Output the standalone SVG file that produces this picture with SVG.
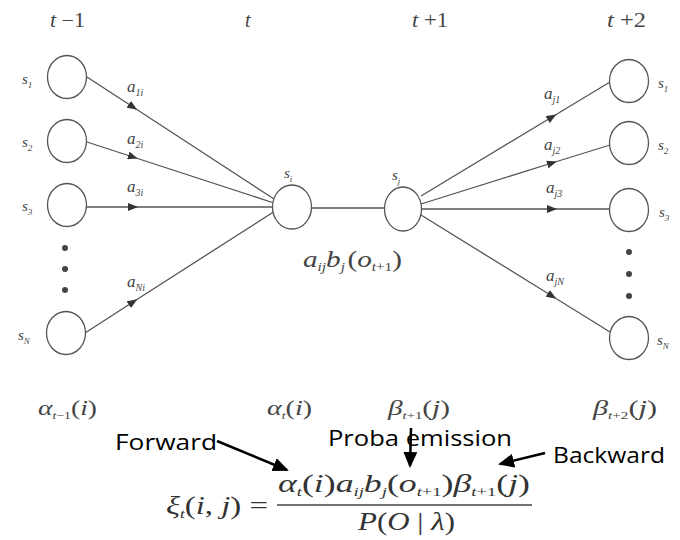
<svg xmlns="http://www.w3.org/2000/svg" width="680" height="540" viewBox="0 0 680 540">
<defs>
<style>
.node{fill:#fff;stroke:#555;stroke-width:1.3}
.edge{fill:none;stroke:#555;stroke-width:1.3}
.m{font-family:'Liberation Serif','DejaVu Serif',serif;fill:#444}
.i{font-style:italic}
.lbl{font-size:15px}
.ann{font-family:'Open Sans','Liberation Sans',sans-serif;font-size:21px;fill:#000}
.big{stroke:#000;stroke-width:2.5;fill:none}
</style>
<marker id="mid" viewBox="0 0 10 8" refX="5" refY="4" markerWidth="10" markerHeight="8" markerUnits="userSpaceOnUse" orient="auto">
<path d="M0,0 L10,4 L0,8 Z" fill="#333"/>
</marker>
<marker id="bigh" viewBox="0 0 16 14" refX="14" refY="7" markerWidth="16" markerHeight="14" markerUnits="userSpaceOnUse" orient="auto">
<path d="M0,0 L16,7 L0,14 Z" fill="#000"/>
</marker>
</defs>
<rect width="680" height="540" fill="#fff"/>

<g id="time-labels" class="m" font-family="Liberation Serif, serif" font-size="20">
<text x="50" y="27" textLength="35" lengthAdjust="spacingAndGlyphs"><tspan class="i">t</tspan> −1</text>
<text x="245" y="27" class="i">t</text>
<text x="412" y="27" textLength="36" lengthAdjust="spacingAndGlyphs"><tspan class="i">t</tspan> +1</text>
<text x="607" y="27" textLength="39" lengthAdjust="spacingAndGlyphs"><tspan class="i">t</tspan> +2</text>
</g>

<g id="connectors">
<path class="edge" d="M87,77 L133,107 L274,199" marker-mid="url(#mid)"/>
<path class="edge" d="M87,142 L133,157 L274,203" marker-mid="url(#mid)"/>
<path class="edge" d="M86,207 L133,207 L273,207" marker-mid="url(#mid)"/>
<path class="edge" d="M85,333 L133,302 L275,211" marker-mid="url(#mid)"/>
<path class="edge" d="M312,208 L384,208"/>
<path class="edge" d="M421,196 L552,117 L610,82" marker-mid="url(#mid)"/>
<path class="edge" d="M421,204 L552,163 L610,145" marker-mid="url(#mid)"/>
<path class="edge" d="M422,209 L552,209 L610,209" marker-mid="url(#mid)"/>
<path class="edge" d="M421,215 L552,296 L610,332" marker-mid="url(#mid)"/>
</g>

<g id="edge-labels" class="m i" font-family="Liberation Serif, serif">
<text x="127" y="92" font-size="17">a<tspan font-size="10" dy="4">1i</tspan></text>
<text x="127" y="144" font-size="17">a<tspan font-size="10" dy="4">2i</tspan></text>
<text x="127" y="192" font-size="17">a<tspan font-size="10" dy="4">3i</tspan></text>
<text x="127" y="287" font-size="17">a<tspan font-size="10" dy="4">Ni</tspan></text>
<text x="544" y="99" font-size="17">a<tspan font-size="10" dy="4">j1</tspan></text>
<text x="544" y="150" font-size="17">a<tspan font-size="10" dy="4">j2</tspan></text>
<text x="546" y="193" font-size="17">a<tspan font-size="10" dy="4">j3</tspan></text>
<text x="546" y="281" font-size="17">a<tspan font-size="10" dy="4">jN</tspan></text>
</g>

<g font-family="Liberation Serif, serif">
<g id="left-s1"><ellipse class="node" cx="67" cy="77" rx="19.5" ry="21.5"/><text class="m i lbl" x="22" y="84">s<tspan font-size="9" dy="4">1</tspan></text></g>
<g id="left-s2"><ellipse class="node" cx="67" cy="141" rx="19.5" ry="21.5"/><text class="m i lbl" x="22" y="147">s<tspan font-size="9" dy="4">2</tspan></text></g>
<g id="left-s3"><ellipse class="node" cx="67" cy="205" rx="19.5" ry="21.5"/><text class="m i lbl" x="22" y="211">s<tspan font-size="9" dy="4">3</tspan></text></g>
<g id="left-dots" fill="#444"><circle cx="65" cy="248" r="3"/><circle cx="65" cy="269" r="3"/><circle cx="65" cy="290" r="3"/></g>
<g id="left-sN"><ellipse class="node" cx="66" cy="333" rx="19.5" ry="21.5"/><text class="m i lbl" x="18" y="340">s<tspan font-size="9" dy="4">N</tspan></text></g>

<g id="node-si"><ellipse class="node" cx="292" cy="207" rx="19.5" ry="22"/><text class="m i lbl" x="284" y="178">s<tspan font-size="9" dy="4">i</tspan></text></g>
<g id="node-sj"><ellipse class="node" cx="403" cy="209" rx="18.5" ry="22"/><text class="m i lbl" x="392" y="180">s<tspan font-size="9" dy="4">j</tspan></text></g>

<g id="right-s1"><ellipse class="node" cx="629" cy="81" rx="19.5" ry="21.5"/><text class="m i lbl" x="658" y="88">s<tspan font-size="9" dy="4">1</tspan></text></g>
<g id="right-s2"><ellipse class="node" cx="629" cy="143" rx="19.5" ry="21.5"/><text class="m i lbl" x="658" y="150">s<tspan font-size="9" dy="4">2</tspan></text></g>
<g id="right-s3"><ellipse class="node" cx="629" cy="210" rx="19.5" ry="21.5"/><text class="m i lbl" x="659" y="217">s<tspan font-size="9" dy="4">3</tspan></text></g>
<g id="right-dots" fill="#444"><circle cx="629" cy="252" r="3"/><circle cx="629" cy="274" r="3"/><circle cx="629" cy="296" r="3"/></g>
<g id="right-sN"><ellipse class="node" cx="629" cy="338" rx="19.5" ry="21.5"/><text class="m i lbl" x="657" y="345">s<tspan font-size="9" dy="4">N</tspan></text></g>
</g>

<g id="transition-label" class="m" font-family="Liberation Serif, serif" font-size="23">
<text x="303" y="267" textLength="99" lengthAdjust="spacingAndGlyphs"><tspan class="i">a</tspan><tspan class="i" font-size="12" dy="4">ij</tspan><tspan class="i" dy="-4">b</tspan><tspan class="i" font-size="12" dy="4">j</tspan><tspan dy="-4" dx="2">(</tspan><tspan class="i">o</tspan><tspan class="i" font-size="12" dy="4">t</tspan><tspan font-size="12">+1</tspan><tspan dy="-4">)</tspan></text>
</g>

<g id="bottom-labels" class="m" font-family="Liberation Serif, serif" font-size="22">
<text x="38" y="415" textLength="59" lengthAdjust="spacingAndGlyphs"><tspan class="i">α</tspan><tspan font-size="11" dy="4"><tspan class="i">t</tspan>−1</tspan><tspan dy="-4">(</tspan><tspan class="i">i</tspan>)</text>
<text x="267" y="415" textLength="45" lengthAdjust="spacingAndGlyphs"><tspan class="i">α</tspan><tspan class="i" font-size="11" dy="4">t</tspan><tspan dy="-4">(</tspan><tspan class="i">i</tspan>)</text>
<text x="388" y="415" textLength="62" lengthAdjust="spacingAndGlyphs"><tspan class="i">β</tspan><tspan font-size="11" dy="4"><tspan class="i">t</tspan>+1</tspan><tspan dy="-4">(</tspan><tspan class="i">j</tspan>)</text>
<text x="593" y="415" textLength="64" lengthAdjust="spacingAndGlyphs"><tspan class="i">β</tspan><tspan font-size="11" dy="4"><tspan class="i">t</tspan>+2</tspan><tspan dy="-4">(</tspan><tspan class="i">j</tspan>)</text>
</g>

<g id="formula" class="m" font-family="Liberation Serif, serif" font-size="25" style="fill:#333">
<text x="166" y="514" textLength="102" lengthAdjust="spacingAndGlyphs"><tspan class="i">ξ</tspan><tspan class="i" font-size="13" dy="4">t</tspan><tspan dy="-4">(</tspan><tspan class="i">i</tspan>, <tspan class="i">j</tspan>) =</text>
<line x1="277" y1="505" x2="532" y2="505" stroke="#444" stroke-width="1.4"/>
<text x="278" y="492" textLength="252" lengthAdjust="spacingAndGlyphs"><tspan class="i">α</tspan><tspan class="i" font-size="13" dy="4">t</tspan><tspan dy="-4">(</tspan><tspan class="i">i</tspan>)<tspan class="i">a</tspan><tspan class="i" font-size="13" dy="4">ij</tspan><tspan class="i" dy="-4">b</tspan><tspan class="i" font-size="13" dy="4">j</tspan><tspan dy="-4">(</tspan><tspan class="i">o</tspan><tspan font-size="13" dy="4"><tspan class="i">t</tspan>+1</tspan><tspan dy="-4">)</tspan><tspan class="i">β</tspan><tspan font-size="13" dy="4"><tspan class="i">t</tspan>+1</tspan><tspan dy="-4">(</tspan><tspan class="i">j</tspan>)</text>
<text x="358" y="530" textLength="97" lengthAdjust="spacingAndGlyphs"><tspan class="i">P</tspan>(<tspan class="i">O</tspan> | <tspan class="i">λ</tspan>)</text>
</g>

<g id="annotations">
<text class="ann" x="115" y="450" textLength="102" lengthAdjust="spacingAndGlyphs">Forward</text>
<text class="ann" x="328" y="446" textLength="184" lengthAdjust="spacingAndGlyphs">Proba emission</text>
<text class="ann" x="553" y="463" textLength="112" lengthAdjust="spacingAndGlyphs">Backward</text>
<line class="big" x1="217" y1="441" x2="287" y2="470" marker-end="url(#bigh)"/>
<line class="big" x1="411" y1="428" x2="410" y2="466" marker-end="url(#bigh)"/>
<line class="big" x1="545" y1="453" x2="500" y2="464" marker-end="url(#bigh)"/>
</g>
</svg>
